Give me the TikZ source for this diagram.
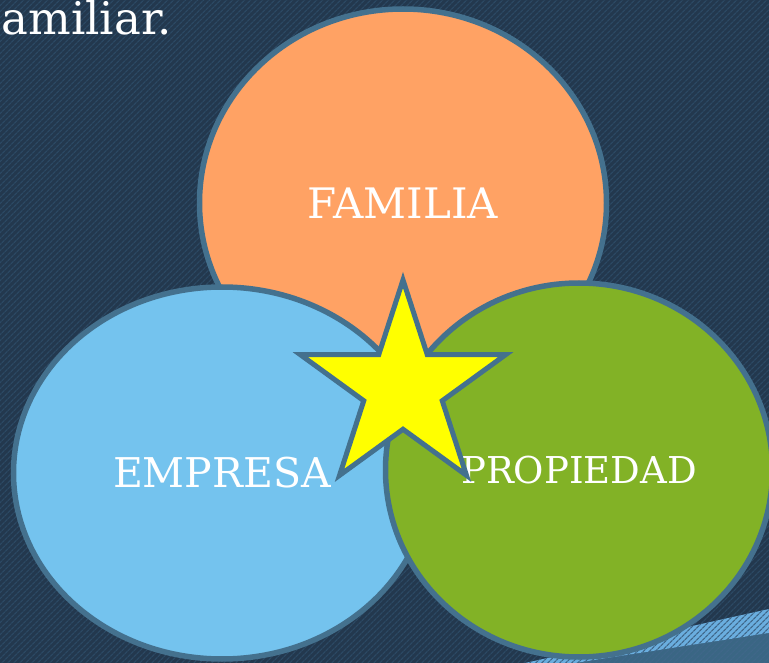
\documentclass[tikz,border=0pt]{standalone}
\usepackage{fontspec}
\newfontfamily\slab{DejaVu Serif}
\usetikzlibrary{shapes.geometric,patterns.meta}
\definecolor{navy}{HTML}{23384E}
\definecolor{navystripe}{HTML}{2C4964}
\definecolor{rim}{HTML}{44718E}
\definecolor{famorange}{HTML}{FFA264}
\definecolor{empblue}{HTML}{74C3EE}
\definecolor{propgreen}{HTML}{82B226}
\definecolor{staryellow}{HTML}{FFFF00}
\definecolor{bandblue}{HTML}{6AAEDF}
\definecolor{lowblue}{HTML}{3A6684}
\begin{document}
\begin{tikzpicture}
    [
        x=1pt, y=-1pt,
        circlebox/.style={ellipse, draw=rim, line width=5.5pt, inner sep=0pt, text=white},
        stripes/.style={pattern={Lines[angle=45,distance=4pt,line width=1.3pt]}, pattern color=#1},
    ]
    \useasboundingbox (0,0) rectangle (769,663);
    % background
    \fill [navy] (0,0) rectangle (769,663);
    \fill [stripes=navystripe] (0,0) rectangle (769,663);
    \fill [lowblue] (575,663) -- (769,633) -- (769,663) -- cycle;
    \fill [bandblue] (525,663) -- (769,609) -- (769,633) -- (575,663) -- cycle;
    \fill [stripes=navystripe!70!bandblue] (525,663) -- (769,609) -- (769,663) -- cycle;
    \node (title) at (-2,35) [anchor=base west, text=white, font=\slab\fontsize{45}{45}\selectfont] {amiliar.};
    % the three circles
    \node (familia) at (403,203) [circlebox, fill=famorange, minimum width=407pt, minimum height=388pt, font=\slab\fontsize{42}{42}\selectfont] {FAMILIA};
    \node (empresa) at (222,473) [circlebox, fill=empblue, minimum width=417pt, minimum height=372pt, font=\slab\fontsize{41}{41}\selectfont] {EMPRESA};
    \node (propiedad) at (579,470) [circlebox, fill=propgreen, minimum width=387pt, minimum height=374pt, font=\slab\fontsize{37}{37}\selectfont] {PROPIEDAD};
    \node (star) at (403,388) [star, star points=5, star point ratio=2.618, minimum size=216pt, inner sep=0pt, fill=staryellow, draw=rim, line width=5pt] {};
\end{tikzpicture}
\end{document}
